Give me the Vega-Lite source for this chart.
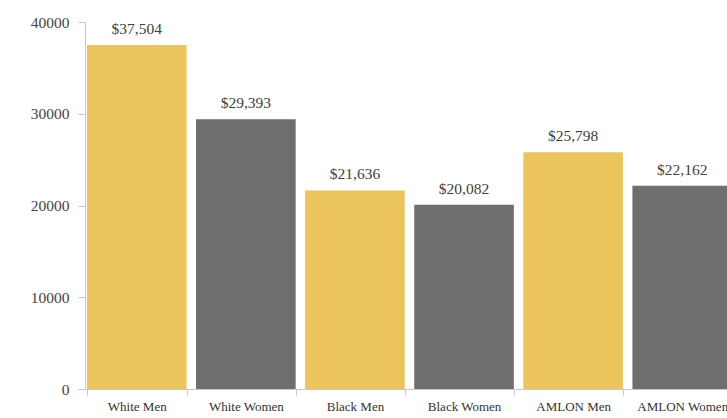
{
  "$schema": "https://vega.github.io/schema/vega-lite/v6.json",
  "autosize": {"type": "none"},
  "padding": {"left": 85, "top": 22, "right": 0, "bottom": 29},
  "width": 642,
  "height": 367,
  "background": "white",
  "config": {"view": {"stroke": null}, "font": "Liberation Serif"},
  "data": {
    "values": [
      {"group": "White Men", "sex": "Men", "income": 37504},
      {"group": "White Women", "sex": "Women", "income": 29393},
      {"group": "Black Men", "sex": "Men", "income": 21636},
      {"group": "Black Women", "sex": "Women", "income": 20082},
      {"group": "AMLON Men", "sex": "Men", "income": 25798},
      {"group": "AMLON Women", "sex": "Women", "income": 22162}
    ]
  },
  "encoding": {
    "x": {
      "field": "group",
      "type": "nominal",
      "sort": null,
      "scale": {"range": [0, 649], "paddingInner": 0.087, "paddingOuter": 0.018},
      "axis": {
        "title": null,
        "labelAngle": 0,
        "labelFont": "Liberation Serif",
        "labelFontSize": 13,
        "labelColor": "#333333",
        "labelPadding": 5,
        "domainColor": "#c8c8c8",
        "tickColor": "#c8c8c8",
        "tickSize": 6,
        "tickBand": "extent",
        "labelBound": false
      }
    },
    "y": {
      "field": "income",
      "type": "quantitative",
      "scale": {"domain": [0, 40000]},
      "axis": {
        "title": null,
        "values": [0, 10000, 20000, 30000, 40000],
        "format": "d",
        "grid": false,
        "labelFont": "Liberation Serif",
        "labelFontSize": 15.5,
        "labelColor": "#454545",
        "labelPadding": 9,
        "domainColor": "#c8c8c8",
        "tickColor": "#c8c8c8",
        "tickSize": 7
      }
    }
  },
  "layer": [
    {
      "mark": {"type": "bar", "clip": true},
      "encoding": {
        "color": {
          "field": "sex",
          "type": "nominal",
          "scale": {"domain": ["Men", "Women"], "range": ["#ebc45c", "#6e6e6e"]},
          "legend": null
        }
      }
    },
    {
      "mark": {"type": "text", "baseline": "bottom", "dy": -8, "fontSize": 15.5, "color": "#404040", "font": "Liberation Serif"},
      "encoding": {
        "text": {"field": "income", "type": "quantitative", "format": "$,d"}
      }
    }
  ]
}
